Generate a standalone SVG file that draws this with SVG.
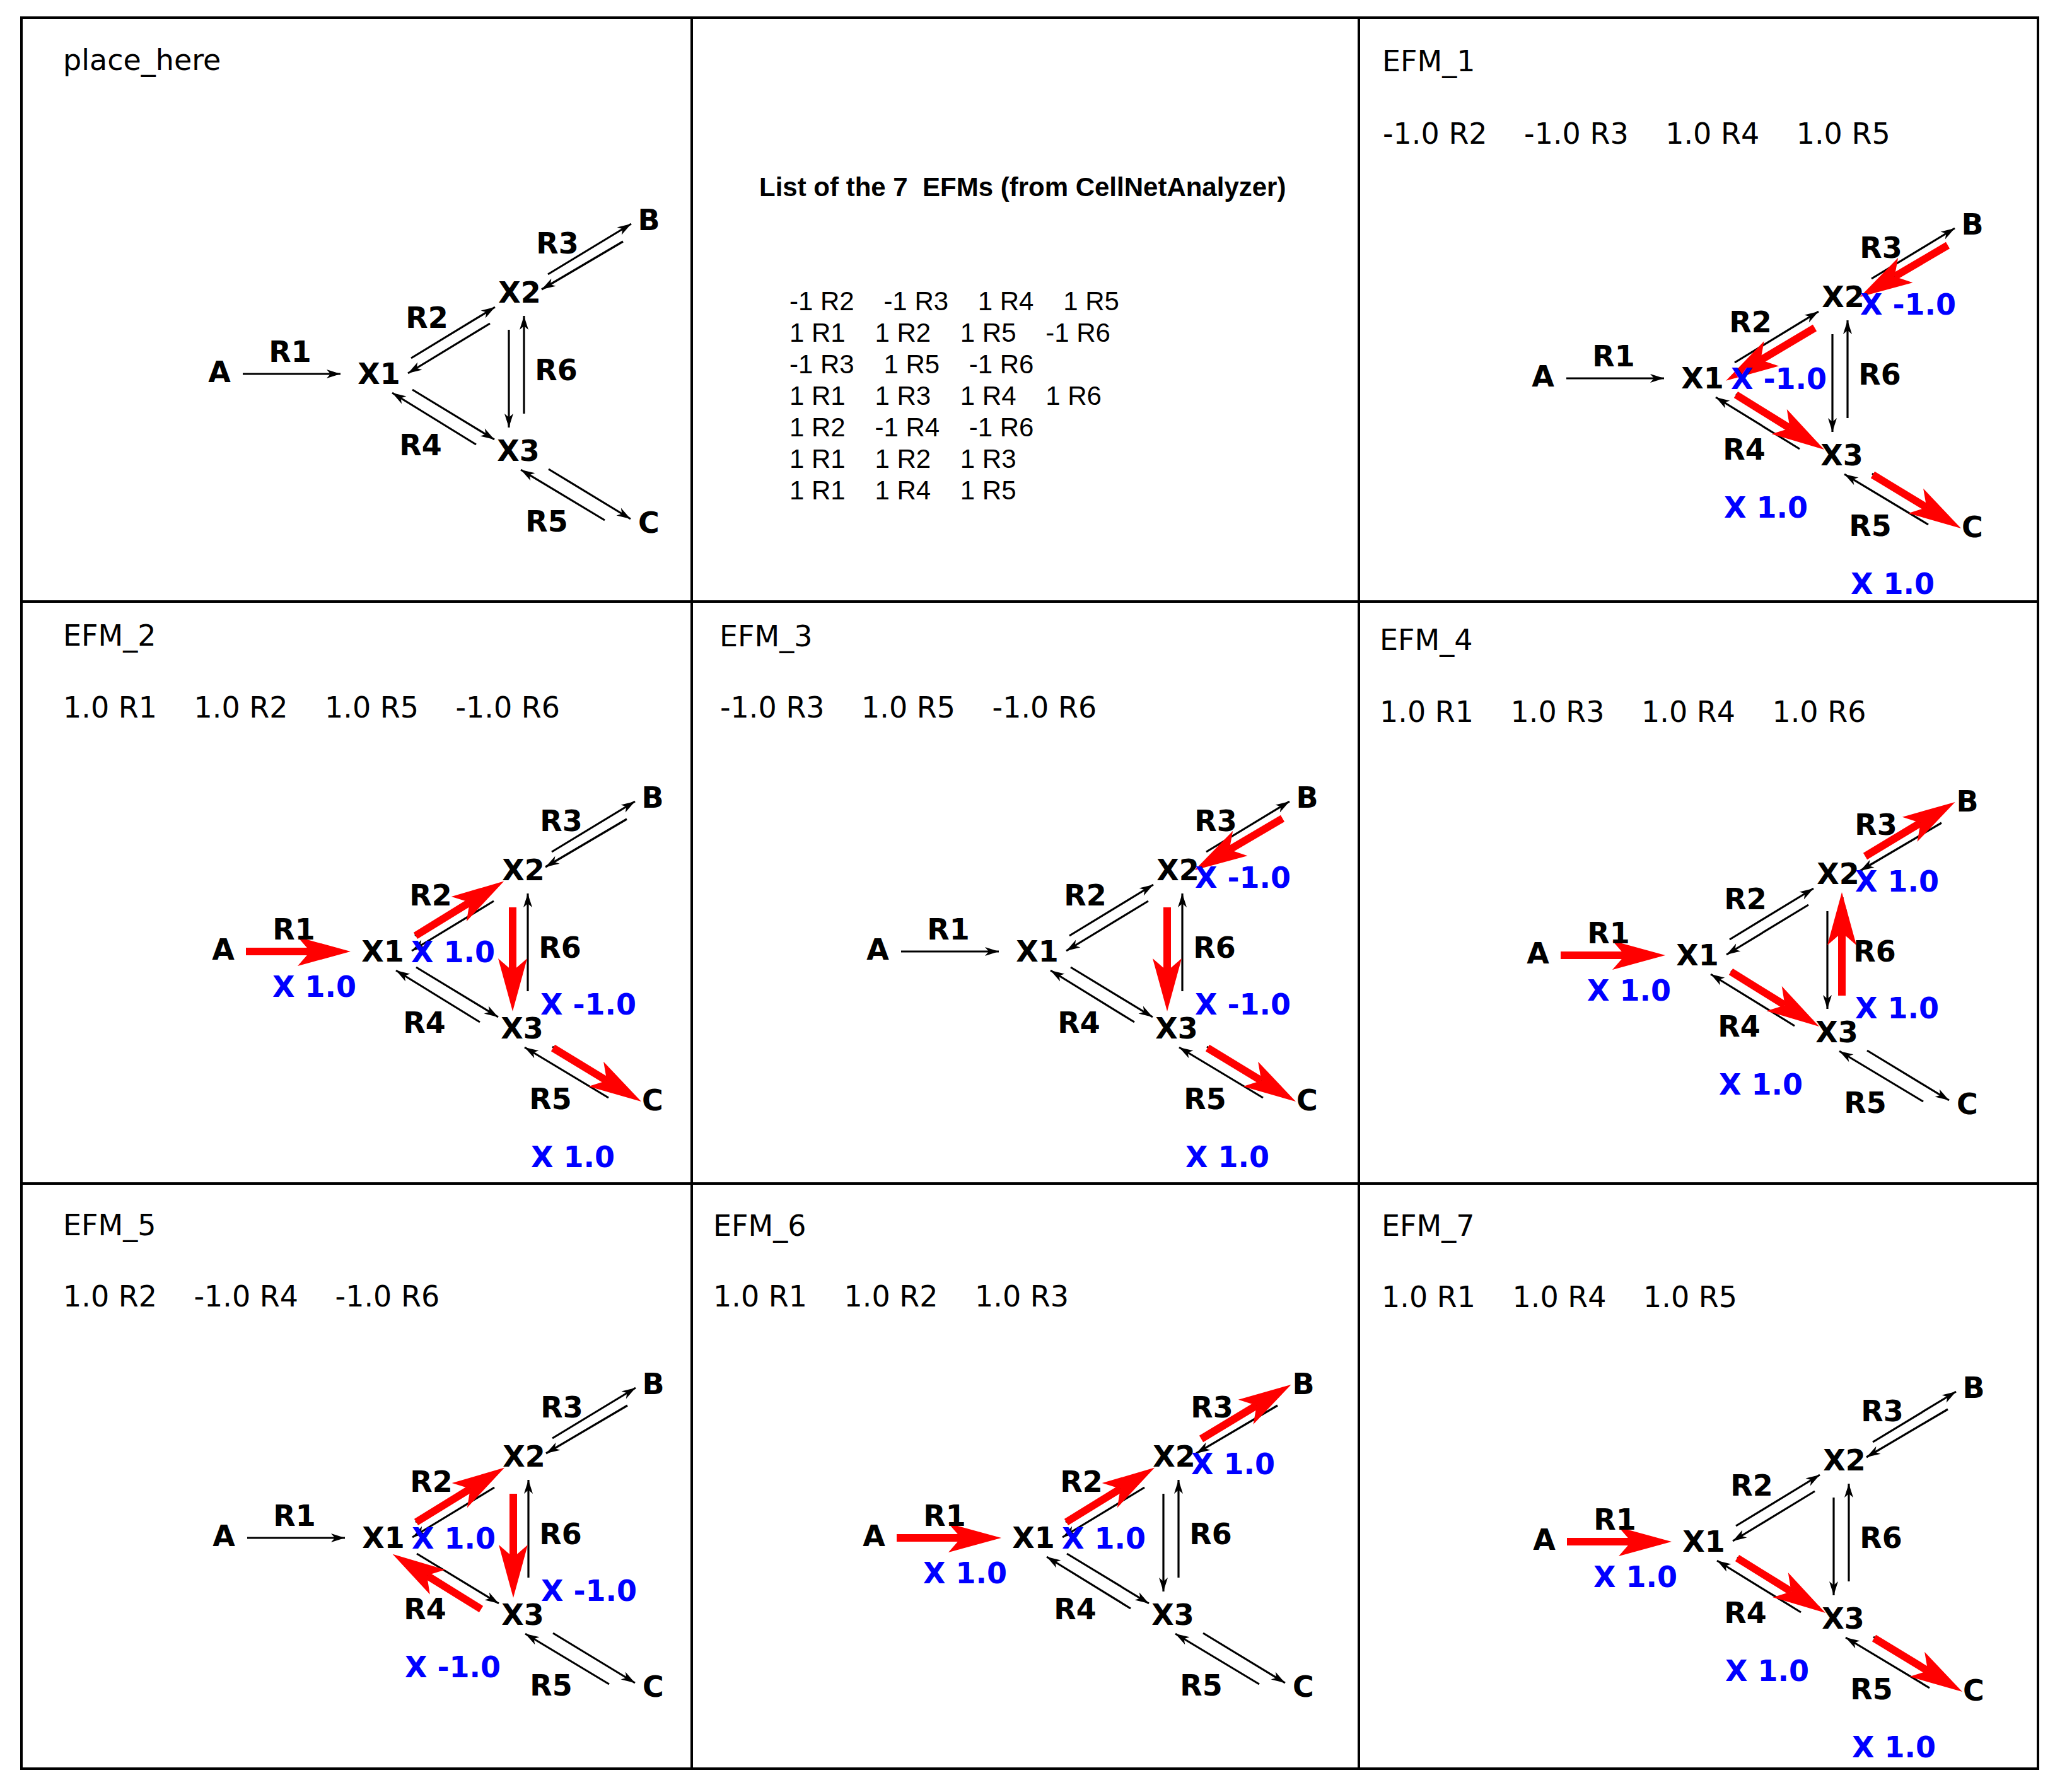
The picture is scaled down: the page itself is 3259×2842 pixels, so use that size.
<svg xmlns="http://www.w3.org/2000/svg" width="3259" height="2842" viewBox="0 0 3259 2842">
<style>
.n{font-family:"DejaVu Sans",sans-serif;font-weight:bold;font-size:46px;text-anchor:middle;fill:#000}
.bl{font-family:"DejaVu Sans",sans-serif;font-weight:bold;font-size:46px;fill:#0000ff;white-space:pre}
.t{font-family:"DejaVu Sans",sans-serif;font-size:46px;fill:#000;white-space:pre}
.lt{font-family:"Liberation Sans",Arial,sans-serif;font-size:42px;fill:#000;white-space:pre}
.lb{font-family:"Liberation Sans",Arial,sans-serif;font-size:42px;font-weight:bold;fill:#000;white-space:pre}
.conn line{stroke:#000;stroke-width:3.2;fill:none;marker-end:url(#ah)}
.flux path{stroke:#ff0000;stroke-width:12;fill:none;marker-end:url(#rh)}
.grid{stroke:#000;stroke-width:4;fill:none}
</style>
<defs>
<marker id="ah" markerUnits="userSpaceOnUse" orient="auto" refX="0" refY="0" markerWidth="30" markerHeight="20" viewBox="-25 -10 30 20" overflow="visible">
<path d="M0,0 L-22,-7 L-16,0 L-22,7 Z" fill="#000"/>
</marker>
<marker id="rh" markerUnits="userSpaceOnUse" orient="auto" refX="0" refY="0" markerWidth="90" markerHeight="50" viewBox="-22 -25 90 50" overflow="visible">
<path d="M64,0 L-20,-23 L0,0 L-20,23 Z" fill="#ff0000"/>
</marker>
</defs>
<rect width="3259" height="2842" fill="#fff"/>

<g id="grid">
<rect class="grid" x="34" y="28" width="3198" height="2777"/>
<line class="grid" x1="1097" y1="28" x2="1097" y2="2805"/>
<line class="grid" x1="2155" y1="28" x2="2155" y2="2805"/>
<line class="grid" x1="34" y1="954" x2="3232" y2="954"/>
<line class="grid" x1="34" y1="1877" x2="3232" y2="1877"/>
</g>

<!-- Panel 0: place_here -->
<g id="panel-place">
<text class="t" x="100" y="111">place_here</text>
<g transform="translate(0,0)">
<g id="p0-connectors" class="conn">
<line x1="385" y1="593" x2="540" y2="593"/>
<line x1="652" y1="568" x2="785" y2="487"/>
<line x1="777" y1="513" x2="647" y2="592"/>
<line x1="869" y1="435" x2="1001" y2="355"/>
<line x1="988" y1="383" x2="859" y2="459"/>
<line x1="807" y1="523" x2="807" y2="678"/>
<line x1="831" y1="656" x2="831" y2="501"/>
<line x1="654" y1="618" x2="784" y2="697"/>
<line x1="755" y1="705" x2="622" y2="623"/>
<line x1="870" y1="744" x2="1000" y2="823"/>
<line x1="959" y1="825" x2="826" y2="745"/>
</g>
<g id="p0-A"><text class="n" x="348" y="606">A</text></g>
<g id="p0-X1"><text class="n" x="601" y="609">X1</text></g>
<g id="p0-X2"><text class="n" x="824" y="480">X2</text></g>
<g id="p0-X3"><text class="n" x="822" y="731">X3</text></g>
<g id="p0-B"><text class="n" x="1029" y="365">B</text></g>
<g id="p0-C"><text class="n" x="1029" y="845">C</text></g>
<g id="p0-labels">
<text class="n" x="460" y="574">R1</text><text class="n" x="677" y="520">R2</text><text class="n" x="884" y="402">R3</text>
<text class="n" x="667" y="722">R4</text><text class="n" x="867" y="843">R5</text><text class="n" x="882" y="603">R6</text>
</g>
</g>
</g>

<!-- Middle: list -->
<g id="panel-list">
<text class="lb" x="1204" y="311">List of the 7  EFMs (from CellNetAnalyzer)</text>
<text class="lt" x="1252" y="492">-1 R2    -1 R3    1 R4    1 R5</text>
<text class="lt" x="1252" y="542">1 R1    1 R2    1 R5    -1 R6</text>
<text class="lt" x="1252" y="592">-1 R3    1 R5    -1 R6</text>
<text class="lt" x="1252" y="642">1 R1    1 R3    1 R4    1 R6</text>
<text class="lt" x="1252" y="692">1 R2    -1 R4    -1 R6</text>
<text class="lt" x="1252" y="742">1 R1    1 R2    1 R3</text>
<text class="lt" x="1252" y="792">1 R1    1 R4    1 R5</text>
</g>

<!-- EFM_1 -->
<g id="panel-efm1">
<text class="t" x="2192" y="113">EFM_1</text>
<text class="t" x="2193" y="228">-1.0 R2    -1.0 R3    1.0 R4    1.0 R5</text>
<g transform="translate(2099,7)">
<g id="e1-connectors" class="conn">
<line x1="385" y1="593" x2="540" y2="593"/>
<line x1="652" y1="568" x2="785" y2="487"/>
<line x1="777" y1="513" x2="647" y2="592"/>
<line x1="869" y1="435" x2="1001" y2="355"/>
<line x1="988" y1="383" x2="859" y2="459"/>
<line x1="807" y1="523" x2="807" y2="678"/>
<line x1="831" y1="656" x2="831" y2="501"/>
<line x1="654" y1="618" x2="784" y2="697"/>
<line x1="755" y1="705" x2="622" y2="623"/>
<line x1="870" y1="744" x2="1000" y2="823"/>
<line x1="959" y1="825" x2="826" y2="745"/>
</g>
<g id="e1-flux" class="flux">
<path d="M779,513 L693.2,564"/>
<path d="M990,382 L905.6,431.6"/>
<path d="M654,619 L739.6,672.2"/>
<path d="M871,746 L956.3,797.8"/>
</g>
<g id="e1-A"><text class="n" x="348" y="606">A</text></g>
<g id="e1-X1"><text class="n" x="601" y="609">X1</text></g>
<g id="e1-X2"><text class="n" x="824" y="480">X2</text></g>
<g id="e1-X3"><text class="n" x="822" y="731">X3</text></g>
<g id="e1-B"><text class="n" x="1029" y="365">B</text></g>
<g id="e1-C"><text class="n" x="1029" y="845">C</text></g>
<g id="e1-labels">
<text class="n" x="460" y="574">R1</text><text class="n" x="677" y="520">R2</text><text class="n" x="884" y="402">R3</text>
<text class="n" x="667" y="722">R4</text><text class="n" x="867" y="843">R5</text><text class="n" x="882" y="603">R6</text>
</g>
<g id="e1-values">
<text class="bl" x="851" y="492">X -1.0</text>
<text class="bl" x="646" y="610">X -1.0</text>
<text class="bl" x="635" y="814">X 1.0</text>
<text class="bl" x="836" y="935">X 1.0</text>
</g>
</g>
</g>

<!-- EFM_2 -->
<g id="panel-efm2">
<text class="t" x="100" y="1024">EFM_2</text>
<text class="t" x="100" y="1138">1.0 R1    1.0 R2    1.0 R5    -1.0 R6</text>
<g transform="translate(6,916)">
<g id="e2-connectors" class="conn">
<line x1="385" y1="593" x2="540" y2="593"/>
<line x1="652" y1="568" x2="785" y2="487"/>
<line x1="777" y1="513" x2="647" y2="592"/>
<line x1="869" y1="435" x2="1001" y2="355"/>
<line x1="988" y1="383" x2="859" y2="459"/>
<line x1="807" y1="523" x2="807" y2="678"/>
<line x1="831" y1="656" x2="831" y2="501"/>
<line x1="654" y1="618" x2="784" y2="697"/>
<line x1="755" y1="705" x2="622" y2="623"/>
<line x1="870" y1="744" x2="1000" y2="823"/>
<line x1="959" y1="825" x2="826" y2="745"/>
</g>
<g id="e2-flux" class="flux">
<path d="M384,593 L486,593"/>
<path d="M653,568 L738.8,515.1"/>
<path d="M807,523 L807,624"/>
<path d="M871,746 L956.3,797.8"/>
</g>
<g id="e2-A"><text class="n" x="348" y="606">A</text></g>
<g id="e2-X1"><text class="n" x="601" y="609">X1</text></g>
<g id="e2-X2"><text class="n" x="824" y="480">X2</text></g>
<g id="e2-X3"><text class="n" x="822" y="731">X3</text></g>
<g id="e2-B"><text class="n" x="1029" y="365">B</text></g>
<g id="e2-C"><text class="n" x="1029" y="845">C</text></g>
<g id="e2-labels">
<text class="n" x="460" y="574">R1</text><text class="n" x="677" y="520">R2</text><text class="n" x="884" y="402">R3</text>
<text class="n" x="667" y="722">R4</text><text class="n" x="867" y="843">R5</text><text class="n" x="882" y="603">R6</text>
</g>
<g id="e2-values">
<text class="bl" x="426" y="665">X 1.0</text>
<text class="bl" x="646" y="610">X 1.0</text>
<text class="bl" x="851" y="693">X -1.0</text>
<text class="bl" x="836" y="935">X 1.0</text>
</g>
</g>
</g>

<!-- EFM_3 -->
<g id="panel-efm3">
<text class="t" x="1141" y="1025">EFM_3</text>
<text class="t" x="1142" y="1138">-1.0 R3    1.0 R5    -1.0 R6</text>
<g transform="translate(1044,916)">
<g id="e3-connectors" class="conn">
<line x1="385" y1="593" x2="540" y2="593"/>
<line x1="652" y1="568" x2="785" y2="487"/>
<line x1="777" y1="513" x2="647" y2="592"/>
<line x1="869" y1="435" x2="1001" y2="355"/>
<line x1="988" y1="383" x2="859" y2="459"/>
<line x1="807" y1="523" x2="807" y2="678"/>
<line x1="831" y1="656" x2="831" y2="501"/>
<line x1="654" y1="618" x2="784" y2="697"/>
<line x1="755" y1="705" x2="622" y2="623"/>
<line x1="870" y1="744" x2="1000" y2="823"/>
<line x1="959" y1="825" x2="826" y2="745"/>
</g>
<g id="e3-flux" class="flux">
<path d="M990,382 L905.6,431.6"/>
<path d="M807,523 L807,624"/>
<path d="M871,746 L956.3,797.8"/>
</g>
<g id="e3-A"><text class="n" x="348" y="606">A</text></g>
<g id="e3-X1"><text class="n" x="601" y="609">X1</text></g>
<g id="e3-X2"><text class="n" x="824" y="480">X2</text></g>
<g id="e3-X3"><text class="n" x="822" y="731">X3</text></g>
<g id="e3-B"><text class="n" x="1029" y="365">B</text></g>
<g id="e3-C"><text class="n" x="1029" y="845">C</text></g>
<g id="e3-labels">
<text class="n" x="460" y="574">R1</text><text class="n" x="677" y="520">R2</text><text class="n" x="884" y="402">R3</text>
<text class="n" x="667" y="722">R4</text><text class="n" x="867" y="843">R5</text><text class="n" x="882" y="603">R6</text>
</g>
<g id="e3-values">
<text class="bl" x="851" y="492">X -1.0</text>
<text class="bl" x="851" y="693">X -1.0</text>
<text class="bl" x="836" y="935">X 1.0</text>
</g>
</g>
</g>

<!-- EFM_4 -->
<g id="panel-efm4">
<text class="t" x="2188" y="1031">EFM_4</text>
<text class="t" x="2188" y="1145">1.0 R1    1.0 R3    1.0 R4    1.0 R6</text>
<g transform="translate(2091,922)">
<g id="e4-connectors" class="conn">
<line x1="385" y1="593" x2="540" y2="593"/>
<line x1="652" y1="568" x2="785" y2="487"/>
<line x1="777" y1="513" x2="647" y2="592"/>
<line x1="869" y1="435" x2="1001" y2="355"/>
<line x1="988" y1="383" x2="859" y2="459"/>
<line x1="807" y1="523" x2="807" y2="678"/>
<line x1="831" y1="656" x2="831" y2="501"/>
<line x1="654" y1="618" x2="784" y2="697"/>
<line x1="755" y1="705" x2="622" y2="623"/>
<line x1="870" y1="744" x2="1000" y2="823"/>
<line x1="959" y1="825" x2="826" y2="745"/>
</g>
<g id="e4-flux" class="flux">
<path d="M384,593 L486,593"/>
<path d="M867,436 L954.8,383"/>
<path d="M654,619 L739.6,672.2"/>
<path d="M830,657 L830,557"/>
</g>
<g id="e4-A"><text class="n" x="348" y="606">A</text></g>
<g id="e4-X1"><text class="n" x="601" y="609">X1</text></g>
<g id="e4-X2"><text class="n" x="824" y="480">X2</text></g>
<g id="e4-X3"><text class="n" x="822" y="731">X3</text></g>
<g id="e4-B"><text class="n" x="1029" y="365">B</text></g>
<g id="e4-C"><text class="n" x="1029" y="845">C</text></g>
<g id="e4-labels">
<text class="n" x="460" y="574">R1</text><text class="n" x="677" y="520">R2</text><text class="n" x="884" y="402">R3</text>
<text class="n" x="667" y="722">R4</text><text class="n" x="867" y="843">R5</text><text class="n" x="882" y="603">R6</text>
</g>
<g id="e4-values">
<text class="bl" x="426" y="665">X 1.0</text>
<text class="bl" x="851" y="492">X 1.0</text>
<text class="bl" x="851" y="693">X 1.0</text>
<text class="bl" x="635" y="814">X 1.0</text>
</g>
</g>
</g>

<!-- EFM_5 -->
<g id="panel-efm5">
<text class="t" x="100" y="1959">EFM_5</text>
<text class="t" x="100" y="2072">1.0 R2    -1.0 R4    -1.0 R6</text>
<g transform="translate(7,1846)">
<g id="e5-connectors" class="conn">
<line x1="385" y1="593" x2="540" y2="593"/>
<line x1="652" y1="568" x2="785" y2="487"/>
<line x1="777" y1="513" x2="647" y2="592"/>
<line x1="869" y1="435" x2="1001" y2="355"/>
<line x1="988" y1="383" x2="859" y2="459"/>
<line x1="807" y1="523" x2="807" y2="678"/>
<line x1="831" y1="656" x2="831" y2="501"/>
<line x1="654" y1="618" x2="784" y2="697"/>
<line x1="755" y1="705" x2="622" y2="623"/>
<line x1="870" y1="744" x2="1000" y2="823"/>
<line x1="959" y1="825" x2="826" y2="745"/>
</g>
<g id="e5-flux" class="flux">
<path d="M653,568 L738.8,515.1"/>
<path d="M756,706 L670,652.6"/>
<path d="M807,523 L807,624"/>
</g>
<g id="e5-A"><text class="n" x="348" y="606">A</text></g>
<g id="e5-X1"><text class="n" x="601" y="609">X1</text></g>
<g id="e5-X2"><text class="n" x="824" y="480">X2</text></g>
<g id="e5-X3"><text class="n" x="822" y="731">X3</text></g>
<g id="e5-B"><text class="n" x="1029" y="365">B</text></g>
<g id="e5-C"><text class="n" x="1029" y="845">C</text></g>
<g id="e5-labels">
<text class="n" x="460" y="574">R1</text><text class="n" x="677" y="520">R2</text><text class="n" x="884" y="402">R3</text>
<text class="n" x="667" y="722">R4</text><text class="n" x="867" y="843">R5</text><text class="n" x="882" y="603">R6</text>
</g>
<g id="e5-values">
<text class="bl" x="646" y="610">X 1.0</text>
<text class="bl" x="851" y="693">X -1.0</text>
<text class="bl" x="635" y="814">X -1.0</text>
</g>
</g>
</g>

<!-- EFM_6 -->
<g id="panel-efm6">
<text class="t" x="1131" y="1960">EFM_6</text>
<text class="t" x="1131" y="2072">1.0 R1    1.0 R2    1.0 R3</text>
<g transform="translate(1038,1846)">
<g id="e6-connectors" class="conn">
<line x1="385" y1="593" x2="540" y2="593"/>
<line x1="652" y1="568" x2="785" y2="487"/>
<line x1="777" y1="513" x2="647" y2="592"/>
<line x1="869" y1="435" x2="1001" y2="355"/>
<line x1="988" y1="383" x2="859" y2="459"/>
<line x1="807" y1="523" x2="807" y2="678"/>
<line x1="831" y1="656" x2="831" y2="501"/>
<line x1="654" y1="618" x2="784" y2="697"/>
<line x1="755" y1="705" x2="622" y2="623"/>
<line x1="870" y1="744" x2="1000" y2="823"/>
<line x1="959" y1="825" x2="826" y2="745"/>
</g>
<g id="e6-flux" class="flux">
<path d="M384,593 L486,593"/>
<path d="M653,568 L738.8,515.1"/>
<path d="M867,436 L954.8,383"/>
</g>
<g id="e6-A"><text class="n" x="348" y="606">A</text></g>
<g id="e6-X1"><text class="n" x="601" y="609">X1</text></g>
<g id="e6-X2"><text class="n" x="824" y="480">X2</text></g>
<g id="e6-X3"><text class="n" x="822" y="731">X3</text></g>
<g id="e6-B"><text class="n" x="1029" y="365">B</text></g>
<g id="e6-C"><text class="n" x="1029" y="845">C</text></g>
<g id="e6-labels">
<text class="n" x="460" y="574">R1</text><text class="n" x="677" y="520">R2</text><text class="n" x="884" y="402">R3</text>
<text class="n" x="667" y="722">R4</text><text class="n" x="867" y="843">R5</text><text class="n" x="882" y="603">R6</text>
</g>
<g id="e6-values">
<text class="bl" x="426" y="665">X 1.0</text>
<text class="bl" x="646" y="610">X 1.0</text>
<text class="bl" x="851" y="492">X 1.0</text>
</g>
</g>
</g>

<!-- EFM_7 -->
<g id="panel-efm7">
<text class="t" x="2191" y="1960">EFM_7</text>
<text class="t" x="2191" y="2073">1.0 R1    1.0 R4    1.0 R5</text>
<g transform="translate(2101,1852)">
<g id="e7-connectors" class="conn">
<line x1="385" y1="593" x2="540" y2="593"/>
<line x1="652" y1="568" x2="785" y2="487"/>
<line x1="777" y1="513" x2="647" y2="592"/>
<line x1="869" y1="435" x2="1001" y2="355"/>
<line x1="988" y1="383" x2="859" y2="459"/>
<line x1="807" y1="523" x2="807" y2="678"/>
<line x1="831" y1="656" x2="831" y2="501"/>
<line x1="654" y1="618" x2="784" y2="697"/>
<line x1="755" y1="705" x2="622" y2="623"/>
<line x1="870" y1="744" x2="1000" y2="823"/>
<line x1="959" y1="825" x2="826" y2="745"/>
</g>
<g id="e7-flux" class="flux">
<path d="M384,593 L486,593"/>
<path d="M654,619 L739.6,672.2"/>
<path d="M871,746 L956.3,797.8"/>
</g>
<g id="e7-A"><text class="n" x="348" y="606">A</text></g>
<g id="e7-X1"><text class="n" x="601" y="609">X1</text></g>
<g id="e7-X2"><text class="n" x="824" y="480">X2</text></g>
<g id="e7-X3"><text class="n" x="822" y="731">X3</text></g>
<g id="e7-B"><text class="n" x="1029" y="365">B</text></g>
<g id="e7-C"><text class="n" x="1029" y="845">C</text></g>
<g id="e7-labels">
<text class="n" x="460" y="574">R1</text><text class="n" x="677" y="520">R2</text><text class="n" x="884" y="402">R3</text>
<text class="n" x="667" y="722">R4</text><text class="n" x="867" y="843">R5</text><text class="n" x="882" y="603">R6</text>
</g>
<g id="e7-values">
<text class="bl" x="426" y="665">X 1.0</text>
<text class="bl" x="635" y="814">X 1.0</text>
<text class="bl" x="836" y="935">X 1.0</text>
</g>
</g>
</g>
</svg>
